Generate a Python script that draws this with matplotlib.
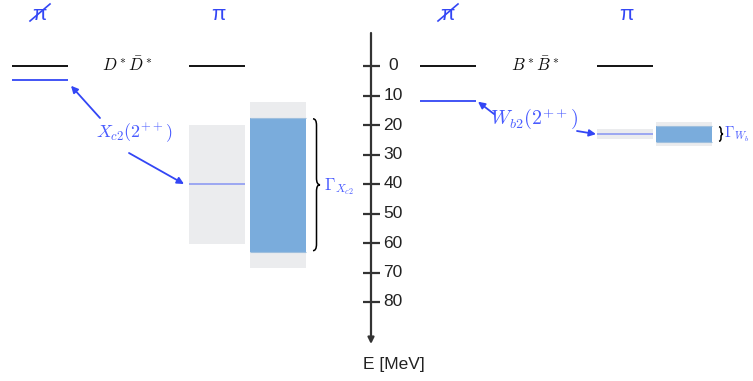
import numpy as np
import matplotlib
matplotlib.use("Agg")
import matplotlib.pyplot as plt
from matplotlib.path import Path
from matplotlib.patches import PathPatch

plt.rcParams['mathtext.fontset'] = 'cm'

# energies below threshold in MeV
tick_values = [0, 10, 20, 30, 40, 50, 60, 70, 80]
tick_labels = ['0', '10', '20', '30', '40', '50', '60', '70', '80']

charm_nopi_E = 4.7
charm_pi_E = 40.0
charm_pi_band = [20.0, 60.3]
charm_width = [17.6, 62.9]
charm_width_err = [12.2, 68.5]

bottom_nopi_E = 12.0
bottom_pi_E = 23.1
bottom_pi_band = [21.4, 24.7]
bottom_width = [20.3, 25.8]
bottom_width_err = [19.0, 27.0]

BLUE = '#3346f5'
LBLUE = '#4a5cff'
PALE = '#95a1f2'
GREY = '#ebecee'
BOXBLUE = '#7aacdc'

px_per_mev = 2.95
y0 = 66.0  # pixel row of E = 0


def E(py):
    # pixel row -> energy, only used for placing labels
    return (py - y0) / px_per_mev


def brace(ax, x0, yt, yb, w, q, color='k', lw=1.1):
    ym = 0.5 * (yt + yb)
    xm = x0 + w / 2.0
    verts = [(x0, yt), (xm, yt), (xm, yt + q),
             (xm, ym - q),
             (xm, ym), (x0 + w, ym),
             (xm, ym), (xm, ym + q),
             (xm, yb - q),
             (xm, yb), (x0, yb)]
    codes = [Path.MOVETO, Path.CURVE3, Path.CURVE3,
             Path.LINETO,
             Path.CURVE3, Path.CURVE3,
             Path.CURVE3, Path.CURVE3,
             Path.LINETO,
             Path.CURVE3, Path.CURVE3]
    ax.add_patch(PathPatch(Path(verts, codes), fc='none', ec=color, lw=lw))


fig = plt.figure(figsize=(7.53, 3.81), dpi=100)
ax = fig.add_axes([0, 0, 1, 1])
ax.set_xlim(0, 753)
ax.set_ylim(E(381), E(0))
ax.axis('off')

# ---- energy axis in the middle
ax.annotate('', xy=(371, E(344)), xytext=(371, E(33)),
            arrowprops=dict(arrowstyle='-|>', lw=1.6, color='#333333',
                            mutation_scale=9, shrinkA=0, shrinkB=0))
ax.hlines(tick_values, 363, 380, color='#333333', lw=1.6)
for v, lab in zip(tick_values, tick_labels):
    ax.text(393, v, lab, ha='center', va='center', fontsize=12.5,
            family='Liberation Sans', color='#222222')
ax.text(394, E(364), 'E [MeV]', ha='center', va='center', fontsize=12.5,
        family='Liberation Sans', color='#222222')


def panel(xoff, nopi_E, pi_E, pi_band, width, width_err, pair, lbl, lbl_xy,
          lbl_size, gam, gam_xy, gam_size, brace_w, brace_q, arrows, c3off=0):
    c1 = (12 + xoff, 68 + xoff)
    c2 = (189 + xoff, 245 + xoff)
    c3 = (250 + xoff + c3off, 306 + xoff + c3off)

    # pi labels on top (crossed out for the left column)
    ax.text(np.mean(c1) - 1, E(14), 'π', ha='center', va='center',
            fontsize=15, family='Liberation Sans', color=BLUE)
    ax.plot([c1[0] + 18, c1[0] + 38], [E(21), E(4)], color=BLUE, lw=1.2)
    ax.text(np.mean(c2) + 1, E(14), 'π', ha='center', va='center',
            fontsize=15, family='Liberation Sans', color=BLUE)

    # thresholds
    ax.hlines(0, c1[0], c1[1], color='k', lw=1.3)
    ax.hlines(0, c2[0], c2[1], color='k', lw=1.3)
    ax.text(np.mean(c1) + 87, 0, pair, ha='center', va='center',
            fontsize=12, color='#111111')

    # state without pions
    ax.hlines(nopi_E, c1[0], c1[1], color=BLUE, lw=1.3)

    # state with pions, mass band
    ax.bar(np.mean(c2), pi_band[1] - pi_band[0], bottom=pi_band[0],
           width=c2[1] - c2[0], color=GREY, lw=0)
    ax.hlines(pi_E, c2[0], c2[1], color=PALE, lw=1.3)

    # width
    ax.bar(np.mean(c3), width_err[1] - width_err[0], bottom=width_err[0],
           width=c3[1] - c3[0], color=GREY, lw=0)
    ax.bar(np.mean(c3), width[1] - width[0], bottom=width[0],
           width=c3[1] - c3[0], color=BOXBLUE, lw=0)
    ax.hlines(width, c3[0], c3[1], color='#9fbfdd', lw=0.8)
    brace(ax, c3[1] + 7, width[0] + 0.3, width[1] - 0.3, brace_w, brace_q)
    ax.text(gam_xy[0], gam_xy[1], gam, ha='left', va='center',
            fontsize=gam_size, color=LBLUE)

    ax.text(lbl_xy[0], lbl_xy[1], lbl, ha='center', va='center',
            fontsize=lbl_size, color=LBLUE)
    for (tx, ty), (hx, hy) in arrows:
        ax.annotate('', xy=(hx, hy), xytext=(tx, ty),
                    arrowprops=dict(arrowstyle='-|>', lw=1.3, color=BLUE,
                                    mutation_scale=10, shrinkA=0, shrinkB=0))


panel(0, charm_nopi_E, charm_pi_E, charm_pi_band, charm_width,
      charm_width_err, r'$D^*\bar{D}^*$', r'$X_{c2}(2^{++})$', (135, E(133)),
      13, r'$\Gamma_{X_{c2}}$', (324, E(187)), 12, 7, 2.2,
      [((100, E(118)), (71, charm_nopi_E + 2.0)),
       ((129, E(153)), (184, charm_pi_E))])

panel(408, bottom_nopi_E, bottom_pi_E, bottom_pi_band, bottom_width,
      bottom_width_err, r'$B^*\bar{B}^*$', r'$W_{b2}(2^{++})$', (534, E(119)),
      14.5, r'$\Gamma_{W_b}$', (724, E(134)), 11, 4, 1.0,
      [((494, E(114)), (478, bottom_nopi_E + 0.1)),
       ((577, E(131)), (596, bottom_pi_E))], c3off=-2)

fig.savefig('out.png', dpi=100)
